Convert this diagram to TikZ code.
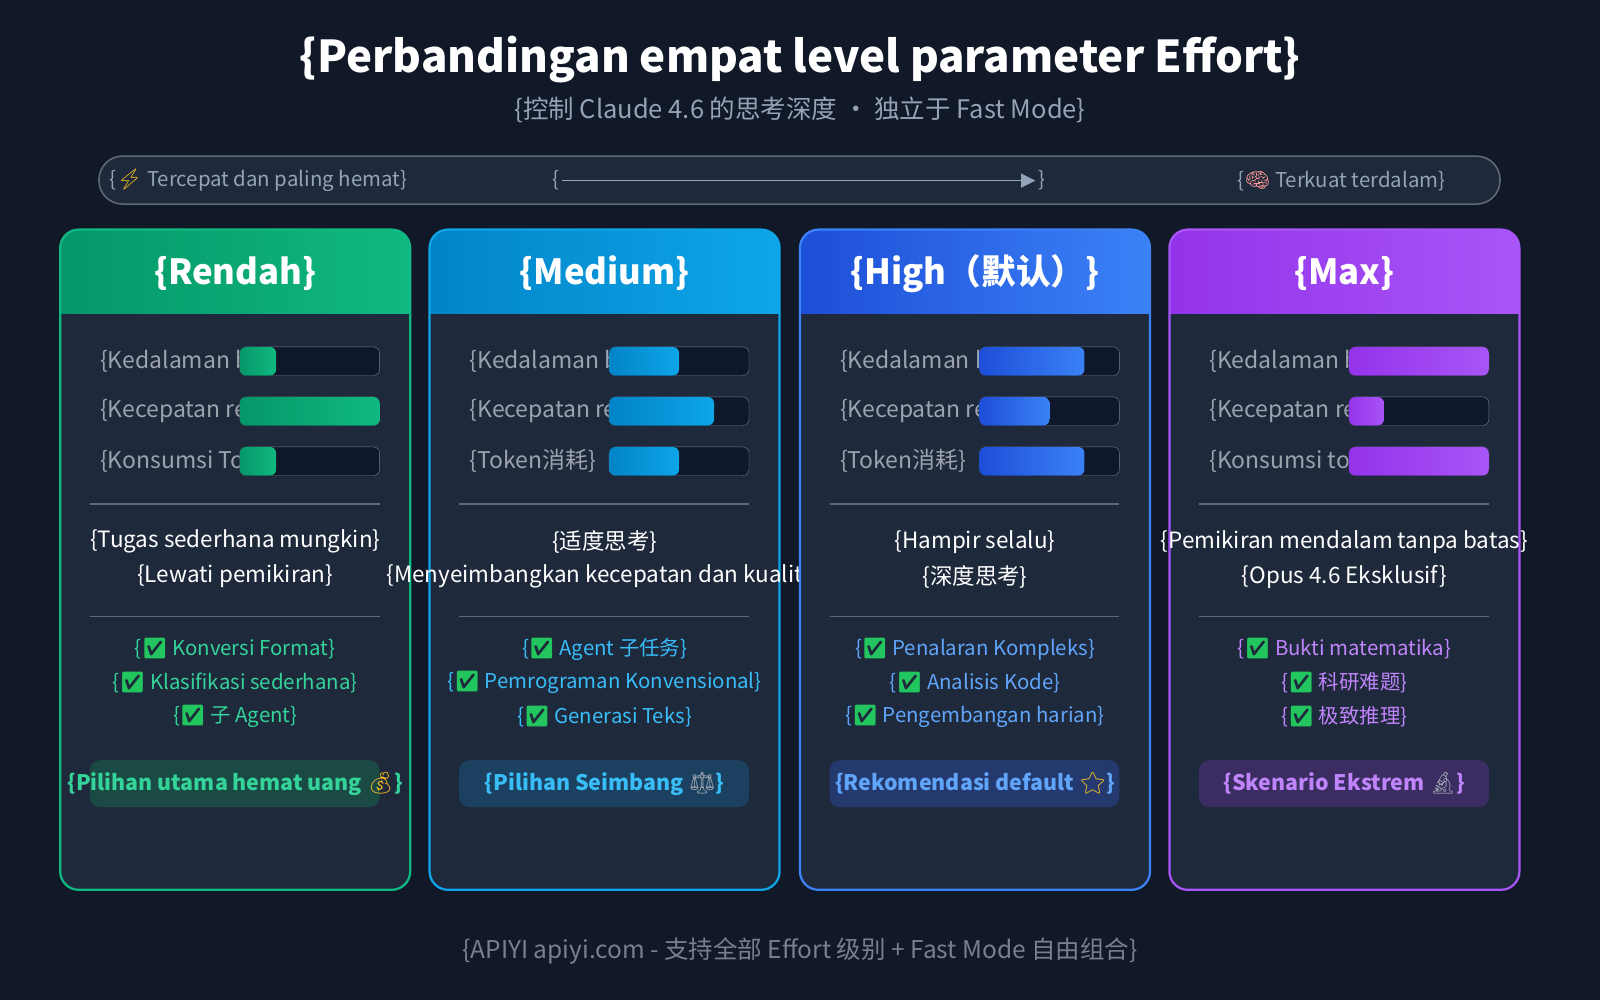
\documentclass[tikz,border=0pt]{standalone}
\usepackage{fontspec}
\setmainfont{Noto Sans CJK SC}
\newfontfamily\emo{Noto Emoji}
\usetikzlibrary{calc}
\definecolor{bg}{HTML}{111827}
\definecolor{cardbg}{HTML}{1E293B}
\definecolor{barbg}{HTML}{0F172A}
\definecolor{sub}{HTML}{94A3B8}
\definecolor{lbl}{HTML}{9CA3AF}
\definecolor{chk}{HTML}{22C55E}
\definecolor{ylw}{HTML}{FBBF24}
\definecolor{gA}{HTML}{10B981}\definecolor{gAd}{HTML}{059669}\definecolor{tA}{HTML}{34D399}\definecolor{bA}{HTML}{1B4A44}
\definecolor{gB}{HTML}{0EA5E9}\definecolor{gBd}{HTML}{0284C7}\definecolor{tB}{HTML}{38BDF8}\definecolor{bB}{HTML}{1C4160}
\definecolor{gC}{HTML}{3B82F6}\definecolor{gCd}{HTML}{1D4ED8}\definecolor{tC}{HTML}{60A5FA}\definecolor{bC}{HTML}{243A6E}
\definecolor{gD}{HTML}{A855F7}\definecolor{gDd}{HTML}{9333EA}\definecolor{tD}{HTML}{C084FC}\definecolor{bD}{HTML}{3B2D62}
\newcommand{\ck}{{\emo\color{chk}✅}}
\tikzset{
  lab/.style={anchor=west,text=lbl,font=\fontsize{22.5}{26}\selectfont,inner sep=0},
  desc/.style={text=white,font=\fontsize{22}{26}\selectfont,inner sep=0},
  feat/.style={font=\fontsize{20}{24}\selectfont,inner sep=0},
  badge/.style={font=\bfseries\fontsize{21}{24}\selectfont,inner sep=0},
}
\begin{document}
\begin{tikzpicture}[x=1pt,y=-1pt]
\fill[bg] (0,0) rectangle (1568,980);
\useasboundingbox (0,0) rectangle (1568,980);
\node[text=white,font=\bfseries\fontsize{43}{48}\selectfont] (title) at (784,58) {\{Perbandingan empat level parameter Effort\}};
\node[text=sub,font=\fontsize{25}{30}\selectfont] (subt) at (784,108) {\{控制 Claude 4.6 的思考深度 · 独立于 Fast Mode\}};
\draw[fill=cardbg,draw=cardbg!70!white,line width=1.5pt,rounded corners=23] (97,153) rectangle (1470,200);
\node[anchor=west,text=sub,font=\fontsize{20}{24}\selectfont] (l) at (104,177) {\{{\emo\color{ylw}⚡} Tercepat dan paling hemat\}};
\node[anchor=east,text=sub,font=\fontsize{20}{24}\selectfont] (r) at (1420,177) {\{{\emo\color{pink!80!red}🧠} Terkuat terdalam\}};
\node[text=sub,font=\fontsize{20}{24}\selectfont,inner sep=0] (ob) at (545,177) {\{};
\node[text=sub,font=\fontsize{20}{24}\selectfont,inner sep=0] (cb) at (1021,177) {\}};
\draw[sub,line width=1.2pt] (ob.east) ++(2,0) -- ++(450,0) coordinate (ae);
\fill[sub] (ae) ++(0,-7) -- ++(14,7) -- ++(-14,7) -- cycle;
% cards
\foreach \cx/\name/\c/\cd/\ct/\cb/\fa/\fb/\fc/\la/\lb/\lc/\da/\db/\fea/\feb/\fec/\bad/\ti in {
59/A/gA/gAd/tA/bA/0.26/1/0.26/Kedalaman b/Kecepatan re/Konsumsi To/Tugas sederhana mungkin/Lewati pemikiran/Konversi Format/Klasifikasi sederhana/子 Agent/Pilihan utama hemat uang {\emo\color{ylw}💰}/Rendah,
421/B/gB/gBd/tB/bB/0.5/0.75/0.5/Kedalaman b/Kecepatan re/Token消耗/适度思考/Menyeimbangkan kecepatan dan kualita/Agent 子任务/Pemrograman Konvensional/Generasi Teks/Pilihan Seimbang {\emo\color{lbl}⚖}/Medium,
784/C/gC/gCd/tC/bC/0.75/0.5/0.75/Kedalaman b/Kecepatan re/Token消耗/Hampir selalu/深度思考/Penalaran Kompleks/Analisis Kode/Pengembangan harian/Rekomendasi default {\emo\color{ylw}⭐}/High（默认）,
1146/D/gD/gDd/tD/bD/1/0.25/1/Kedalaman b/Kecepatan re/Konsumsi to/Pemikiran mendalam tanpa batas/Opus 4.6 Eksklusif/Bukti matematika/科研难题/极致推理/Skenario Ekstrem {\emo\color{lbl}🔬}/Max}{
  \begin{scope}[shift={(\cx,0)}]
  \fill[cardbg,rounded corners=18] (0,225) rectangle (343,872);
  \fill[left color=\cd,right color=\c,rounded corners=18] (0,225) rectangle (343,307);
  \fill[left color=\cd,right color=\c] (0,280) rectangle (343,307);
  \draw[\c,line width=2.2pt,rounded corners=18] (0,225) rectangle (343,872);
  \node[text=white,font=\bfseries\fontsize{34}{38}\selectfont] (h\name) at (171.5,268) {\{\ti\}};
  \foreach \y/\f/\t in {354/\fa/\la,403/\fb/\lb,452/\fc/\lc}{
    \node[lab] at (39,\y) {\{\t\}};
    \fill[barbg,draw=cardbg!60!white,rounded corners=6] (176,\y-14) rectangle (313,\y+14);
    \fill[left color=\cd,right color=\c,rounded corners=6] (176,\y-14) rectangle ({176+137*\f},\y+14);
  }
  \draw[cardbg!70!white,line width=1.2pt] (29,494) -- (313,494);
  \draw[cardbg!70!white,line width=1.2pt] (29,604) -- (313,604);
  \node[desc] (da\name) at (171.5,531) {\{\da\}};
  \node[desc] (db\name) at (171.5,565) {\{\db\}};
  \node[feat,text=\ct] at (171.5,636) {\{\ck\ \fea\}};
  \node[feat,text=\ct] at (171.5,669) {\{\ck\ \feb\}};
  \node[feat,text=\ct] at (171.5,702) {\{\ck\ \fec\}};
  \fill[\cb,rounded corners=10] (29,745) rectangle (313,791);
  \node[badge,text=\ct] (bd\name) at (171.5,768) {\{\bad\}};
  \end{scope}
}
\node[text=lbl!75!bg,font=\fontsize{24}{28}\selectfont] (foot) at (784,932) {\{APIYI apiyi.com - 支持全部 Effort 级别 + Fast Mode 自由组合\}};
\end{tikzpicture}
\end{document}
